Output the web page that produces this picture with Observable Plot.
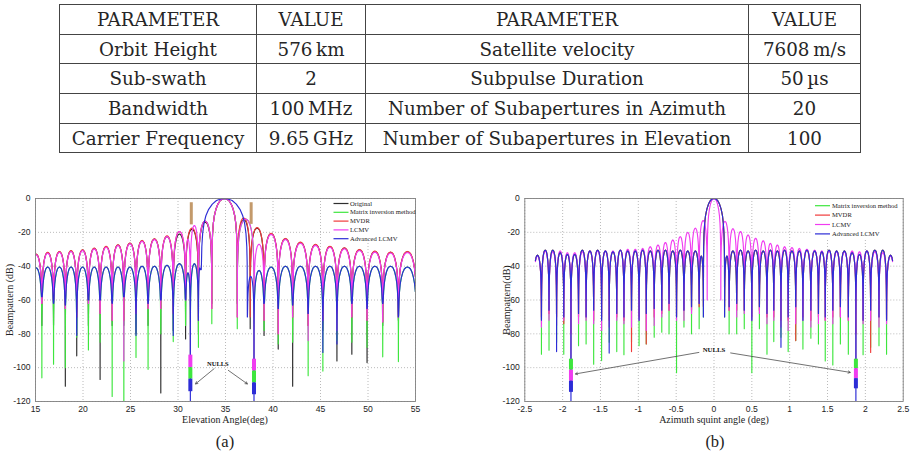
<!DOCTYPE html>
<html><head><meta charset="utf-8">
<script src="https://cdn.jsdelivr.net/npm/d3@7"></script>
<script src="https://cdn.jsdelivr.net/npm/@observablehq/plot@0.6"></script>
<style>
html,body{margin:0;padding:0;background:#fff}
#page{position:relative;width:916px;height:456px;overflow:hidden}
#tbl{position:absolute;left:59px;top:4px;border-collapse:collapse;table-layout:fixed;font-family:"DejaVu Serif",serif;font-size:18.3px;color:#262626}
#tbl td{border:1.3px solid #444;text-align:center;padding:0;white-space:nowrap}
#tbl tr{height:29.7px}
.chart{position:absolute;top:186px}
#overlay{position:absolute;left:0;top:0}
</style></head>
<body><div id="page">
<table id="tbl"><colgroup><col style="width:197px"><col style="width:109px"><col style="width:383px"><col style="width:112px"></colgroup><tbody></tbody></table>
<div id="chartA" class="chart" style="left:0px"></div>
<div id="chartB" class="chart" style="left:458px"></div>
</div>
<script>
// ---------------- table data ----------------
const tableHeader = ["PARAMETER", "VALUE", "PARAMETER", "VALUE"];
const tableParamsLeft = ["Orbit Height", "Sub-swath", "Bandwidth", "Carrier Frequency"];
const tableValuesLeft = ["576\u2009km", "2", "100\u2009MHz", "9.65\u2009GHz"];
const tableParamsRight = ["Satellite velocity", "Subpulse Duration", "Number of Subapertures in Azimuth", "Number of Subapertures in Elevation"];
const tableValuesRight = ["7608\u2009m/s", "50\u2009\u00b5s", "20", "100"];

// ---------------- chart (a) data: null angles (deg), lobe peaks (dB), null depths (dB) ----------------
const seriesNamesA = ["Original", "Matrix inversion method", "MVDR", "LCMV", "Advanced LCMV"];
const xTicksA = [15, 20, 25, 30, 35, 40, 45, 50, 55];
const yTicks = [0, -20, -40, -60, -80, -100, -120];

const aNullsMain = [14.45,15.67,16.9,18.14,19.34,20.57,21.8,23.07,24.3,25.58,26.85,28.19,29.5,30.8,32.15,33.56,36.24,37.6,39.06,40.55,42.07,43.7,45.25,46.73,48.3,49.9,51.55,53.2,55.1];
const aNullsLCMV = [14.45,15.67,16.9,18.14,19.34,20.57,21.8,23.07,24.3,25.58,26.85,28.19,29.5,30.8,31.3,32.15,33.56,36.24,38.0,39.06,40.55,42.07,43.7,45.25,46.73,48.3,49.9,51.55,53.2,55.1];
const aNullsAdv = [14.45,15.67,16.9,18.14,19.34,20.57,21.8,23.07,24.3,25.58,26.85,28.19,29.5,30.8,31.3,32.15,32.45,37.3,38.0,39.06,40.55,42.07,43.7,45.25,46.73,48.3,49.9,51.55,53.2,55.1];

const aPeaksOriginal = [-33,-32,-31.5,-31,-30.5,-29.5,-28.5,-27.5,-26.5,-25,-24,-22.5,-21,-18.2,-14,0,-12.5,-17.5,-20.8,-23.8,-26,-27.3,-28.4,-29.3,-30.3,-31.3,-31.8,-31.5];
const aDepthsOriginal = [-70,-75,-75,-111,-93,-75,-107,-75,-75,-80,-75,-115,-78,-83,-79,-62,-62,-77,-81,-89,-111,-75,-78,-96,-92,-97,-75,-72,-70];
const aPeaksMatrix = [-41,-40.5,-40.5,-40.5,-40.5,-40.5,-40.5,-40.5,-40.5,-40,-40,-39.5,-38.5,-44,-38.5,-13.3,0,-12.2,-42.5,-40.5,-40,-40,-40,-40,-40,-40,-40,-40,-40.5];
const aDepthsMatrix = [-75,-106,-98,-100,-82,-89.5,-85,-117,-125,-94,-101,-80,-84.6,-75,-107,-88,-74,-77,-109,-78,-86,-85,-104.8,-102,-84,-85,-88,-93.6,-96.4,-75];
const aPeaksMVDR = [-32.8,-31.8,-31.3,-30.8,-30.3,-29.3,-28.3,-27.3,-26.3,-24.8,-23.8,-22,-19.5,-17.5,-13.5,0,-11.5,-17.2,-20.6,-23.6,-25.8,-27.1,-28.2,-29.1,-30.1,-31.1,-31.6,-31.3];
const aDepthsMVDR = [-60,-62,-60,-65,-70,-62,-68,-72,-72,-68,-65,-65,-68,-60,-72,-65,-70,-70,-72,-80,-70,-75,-72,-68,-70,-72,-73,-70,-60];
const aPeaksLCMV = [-33.3,-32.3,-31.8,-31.3,-30.8,-29.8,-28.8,-27.8,-26.8,-25.3,-24.3,-22.5,-19.5,-24,-16,-13.3,0,-12.2,-27,-21.2,-24.2,-26.4,-27.7,-28.8,-29.7,-30.7,-31.7,-32.2,-31.9];
const aDepthsLCMV = [-60,-62,-60,-65,-70,-62,-68,-72,-96,-68,-65,-65,-68,-60,-100,-70,-65,-70,-102,-72,-80,-70,-84,-72,-78,-70,-72,-73,-70,-60];
const aPeaksAdv = [-41,-40.5,-40.5,-40.5,-40.5,-40.5,-40.5,-40.5,-40.5,-40,-40,-39.5,-38.5,-44,-38.5,-41,0,-46,-42.5,-40.5,-40,-40,-40,-40,-40,-40,-40,-40,-40.5];
const aDepthsAdv = [-55,-58,-62,-63,-81,-60,-60,-62,-58,-81,-62,-60,-81,-60,-130,-72,-42,-70,-130,-62,-65,-63,-68,-91,-86,-62,-65,-62,-70,-60];

// imposed nulls: depth reached by each method (thick bars) and interference markers
const aNullAngles = [31.3, 38.0];
const aNullLCMV = [[-92.6, -100], [-95, -102]];
const aNullMatrix = [[-100, -106.8], [-102, -109]];
const aNullAdv = [[-106.8, -114.2], [-109, -116]];
const aInterfAngles = [31.4, 37.7];
const aInterfLevels = [[-2.5, -15.6], [-2.5, -15.3]];

// ---------------- chart (b) data ----------------
const seriesNamesB = ["Matrix inversion method", "MVDR", "LCMV", "Advanced LCMV"];
const xTicksB = [-2.5, -2, -1.5, -1, -0.5, 0, 0.5, 1, 1.5, 2, 2.5];
const bNullsLCMV = [-2.385,-2.28,-2.18,-2.08,-1.985,-1.89,-1.79,-1.69,-1.59,-1.485,-1.385,-1.285,-1.19,-1.09,-0.99,-0.895,-0.79,-0.69,-0.594,-0.495,-0.397,-0.297,-0.196,-0.09,0.09,0.2,0.3,0.4,0.5,0.6,0.7,0.79,0.885,0.98,1.08,1.175,1.28,1.38,1.47,1.57,1.67,1.775,1.875,1.97,2.07,2.18,2.28,2.385];
const bNullsOther = [-2.385,-2.28,-2.18,-2.08,-1.985,-1.89,-1.79,-1.69,-1.59,-1.485,-1.385,-1.285,-1.19,-1.09,-0.99,-0.895,-0.79,-0.69,-0.594,-0.495,-0.397,-0.297,-0.196,-0.14,0.14,0.2,0.3,0.4,0.5,0.6,0.7,0.79,0.885,0.98,1.08,1.175,1.28,1.38,1.47,1.57,1.67,1.775,1.875,1.97,2.07,2.18,2.28,2.385];
const bPeaksLCMV = [-34,-31,-31.5,-31,-32,-32,-31.5,-31,-31,-31,-31,-30.5,-30,-30,-29.5,-28.5,-27.5,-26,-24.5,-22.5,-20,-17.5,-13,0,-13.5,-17.8,-19.5,-21.5,-23.5,-25,-26.5,-27.5,-28.5,-29,-29.5,-30,-30.5,-31,-31,-31.5,-31.5,-31,-31.5,-31,-31.5,-32,-34];
const bPeaksAdv = [-33.5,-30.5,-30.5,-32,-33,-33,-30.5,-31,-30.5,-31,-31.5,-30.5,-31,-31,-30.5,-31,-30.5,-30.5,-31,-30.5,-31,-31,-34,0,-34,-31,-30.5,-31,-30.5,-31,-30.5,-31,-30.5,-31,-31,-30.5,-31,-31.5,-30.5,-31,-31,-32,-33,-31,-30.5,-30.5,-33.5];
const bPeaksMatrix = bPeaksAdv;
const bPeaksMVDR = bPeaksAdv;
const bDepthsMatrix = [null,-92,-89.7,-85,-92,-101.5,-87,-86,-98,-95.8,-85,-90.5,-92.3,-85,-87,-86,-82,-79,-80,-103,-76,-80,-77,-70,-70,-80,-80,-77,-103,-77,-92,-84.6,-82,-90.5,-84,-89,-82.6,-86,-96,-98.4,-86,-92,-101,-92.3,-88,-87,-92,null];
const bDepthsMVDR = [null,-70,-68,-70,-74,-80,-70,-70,-72,-70,-72,-70,-72,-90.5,-70,-86,-70,-68,-66,-70,-66,-66,-64,-64,-64,-66,-66,-66,-70,-66,-70,-70,-72,-72,-84,-70,-72,-70,-72,-70,-70,-72,-80,-72,-91,-70,-72,null];
const bDepthsLCMV = [null,-76,-72,-75,-72,-108,-74,-72,-74,-78,-76,-72,-74,-76,-72,-78,-75,-70,-66,-72,-72,-68,-62,-60,-60,-66,-70,-68,-72,-68,-74,-72,-76,-78,-74,-72,-76,-74,-72,-74,-70,-72,-106,-74,-72,-76,-74,null];
const bDepthsAdv = [null,-72,-66,-90.5,-70,-130,-68,-70,-66,-72,-91.4,-68,-70,-66,-72,-68,-65,-66,-62,-70,-66,-64,-62,-70,-70,-64,-62,-66,-72,-64,-68,-66,-88,-70,-64,-72,-66,-68,-70,-66,-64,-70,-130,-72,-66,-70,-72,null];
const bNullAngles = [-1.89, 1.875];
const bNullMatrix = [[-95, -101.5], [-95, -100.6]];
const bNullLCMV = [[-101.5, -108], [-100.6, -106.5]];
const bNullAdv = [[-108, -114.6], [-106.5, -112.5]];

// ---------------- styles ----------------
const colorOf = {"Original": "#2e2e2e", "Matrix inversion method": "#3ee63e", "MVDR": "#f03a3a", "LCMV": "#f03cf0", "Advanced LCMV": "#2c2cd6"};
// drawing style for one lobe between two nulls: [fraction of lobe width, dB below the lobe peak]
const lobeShape = [[0.004,-38],[0.012,-28.5],[0.03,-20.6],[0.06,-14.6],[0.1,-10.2],[0.16,-6.4],[0.24,-3.3],[0.33,-1.2],[0.42,-0.3],[0.5,0]];

function patternPoints(nulls, peaks, depths, range) {
  const pts = [];
  for (let i = 0; i < peaks.length; i++) {
    const a = nulls[i], b = nulls[i + 1], w = b - a, p = peaks[i];
    const dA = depths[i] == null ? -999 : depths[i];
    const dB = depths[i + 1] == null ? -999 : depths[i + 1];
    if (depths[i] != null) pts.push({x: a, y: depths[i]});
    for (const [t, o] of lobeShape) pts.push({x: a + t * w, y: Math.max(p + o, dA)});
    for (let k = lobeShape.length - 2; k >= 0; k--) {
      const [t, o] = lobeShape[k];
      pts.push({x: b - t * w, y: Math.max(p + o, dB)});
    }
  }
  const last = peaks.length;
  if (depths[last] != null) pts.push({x: nulls[last], y: depths[last]});
  return pts.filter(d => d.x >= range[0] && d.x <= range[1]);
}
function bars(angles, levels, name) {
  return angles.map((x, i) => ({x, y1: levels[i][0], y2: levels[i][1], c: colorOf[name]}));
}
const hy = d => String(d);

function chart({width, height, marginLeft, marginRight, xDomain, xTicks, series, range, extra}) {
  const marks = [
    Plot.gridX(xTicks, {stroke: "#a8a8a8", strokeDasharray: "1,2", strokeOpacity: 1, strokeWidth: 0.8}),
    Plot.gridY(yTicks, {stroke: "#a8a8a8", strokeDasharray: "1,2", strokeOpacity: 1, strokeWidth: 0.8}),
  ];
  for (const s of series) {
    marks.push(Plot.line(patternPoints(s.nulls, s.peaks, s.depths, range),
      {x: "x", y: "y", stroke: colorOf[s.name], strokeWidth: 1.15, clip: true}));
  }
  marks.push(...extra);
  marks.push(
    Plot.frame({stroke: "#808080", strokeWidth: 0.9}),
    Plot.axisX(xTicks, {tickFormat: hy, tickSize: 0, tickPadding: 4, label: null, fontSize: 8.6}),
    Plot.axisY(yTicks, {tickFormat: hy, tickSize: 0, tickPadding: 5, label: null, fontSize: 8.6})
  );
  return Plot.plot({
    width, height, marginLeft, marginRight, marginTop: 12, marginBottom: 32,
    x: {domain: xDomain}, y: {domain: [-120, 0]}, color: {type: "identity"},
    style: {fontFamily: "'Liberation Sans', Arial, sans-serif", fontSize: "9px", background: "transparent", color: "#222", overflow: "visible"},
    marks
  });
}

// ---------- table ----------
const tbody = d3.select("#tbl tbody");
const hr = tbody.append("tr");
tableHeader.forEach(t => hr.append("td").text(t));
tableParamsLeft.forEach((p, i) => {
  const tr = tbody.append("tr");
  [p, tableValuesLeft[i], tableParamsRight[i], tableValuesRight[i]].forEach(t => tr.append("td").text(t));
});

// ---------- chart (a) ----------
const nullsTextA = [{x: 34.2, y: -97.5, t: "NULLS"}];
const arrowsA = [{x1: 33.8, y1: -100.6, x2: 31.85, y2: -109.6}, {x1: 35.3, y1: -101.6, x2: 37.3, y2: -109.6}];
const extraA = [
  Plot.ruleX(bars(aNullAngles, aNullLCMV, "LCMV"), {x: "x", y1: "y1", y2: "y2", stroke: "c", strokeWidth: 4}),
  Plot.ruleX(bars(aNullAngles, aNullMatrix, "Matrix inversion method"), {x: "x", y1: "y1", y2: "y2", stroke: "c", strokeWidth: 4}),
  Plot.ruleX(bars(aNullAngles, aNullAdv, "Advanced LCMV"), {x: "x", y1: "y1", y2: "y2", stroke: "c", strokeWidth: 4}),
  Plot.ruleX(aInterfAngles.map((x, i) => ({x, y1: aInterfLevels[i][0], y2: aInterfLevels[i][1]})), {x: "x", y1: "y1", y2: "y2", stroke: "#c39a6b", strokeWidth: 3}),
  Plot.arrow(arrowsA, {x1: "x1", y1: "y1", x2: "x2", y2: "y2", stroke: "#333", strokeWidth: 0.7, headLength: 5}),
  Plot.text(nullsTextA, {x: "x", y: "y", text: "t", fontSize: 6.5, fontWeight: "bold", fontFamily: "'Liberation Serif', serif", fill: "#111"})
];
document.getElementById("chartA").append(chart({
  width: 458, height: 247, marginLeft: 35, marginRight: 43, xDomain: [15, 55], xTicks: xTicksA, range: [15, 55],
  series: [
    {name: "Original", nulls: aNullsMain, peaks: aPeaksOriginal, depths: aDepthsOriginal},
    {name: "Matrix inversion method", nulls: aNullsLCMV, peaks: aPeaksMatrix, depths: aDepthsMatrix},
    {name: "MVDR", nulls: aNullsMain, peaks: aPeaksMVDR, depths: aDepthsMVDR},
    {name: "LCMV", nulls: aNullsLCMV, peaks: aPeaksLCMV, depths: aDepthsLCMV},
    {name: "Advanced LCMV", nulls: aNullsAdv, peaks: aPeaksAdv, depths: aDepthsAdv}
  ],
  extra: extraA
}));

// ---------- chart (b) ----------
const nullsTextB = [{x: 0, y: -89.5, t: "NULLS"}];
const arrowsB = [{x1: -0.2, y1: -91, x2: -1.83, y2: -103.7}, {x1: 0.22, y1: -91.3, x2: 1.8, y2: -102.8}];
const extraB = [
  Plot.ruleX(bars(bNullAngles, bNullMatrix, "Matrix inversion method"), {x: "x", y1: "y1", y2: "y2", stroke: "c", strokeWidth: 4}),
  Plot.ruleX(bars(bNullAngles, bNullLCMV, "LCMV"), {x: "x", y1: "y1", y2: "y2", stroke: "c", strokeWidth: 4}),
  Plot.ruleX(bars(bNullAngles, bNullAdv, "Advanced LCMV"), {x: "x", y1: "y1", y2: "y2", stroke: "c", strokeWidth: 4}),
  Plot.arrow(arrowsB, {x1: "x1", y1: "y1", x2: "x2", y2: "y2", stroke: "#333", strokeWidth: 0.7, headLength: 5}),
  Plot.text(nullsTextB, {x: "x", y: "y", text: "t", fontSize: 6.8, fontWeight: "bold", fontFamily: "'Liberation Serif', serif", fill: "#111"})
];
document.getElementById("chartB").append(chart({
  width: 458, height: 247, marginLeft: 66.3, marginRight: 13.3, xDomain: [-2.5, 2.5], xTicks: xTicksB, range: [-2.362, 2.362],
  series: [
    {name: "Matrix inversion method", nulls: bNullsOther, peaks: bPeaksMatrix, depths: bDepthsMatrix},
    {name: "MVDR", nulls: bNullsOther, peaks: bPeaksMVDR, depths: bDepthsMVDR},
    {name: "LCMV", nulls: bNullsLCMV, peaks: bPeaksLCMV, depths: bDepthsLCMV},
    {name: "Advanced LCMV", nulls: bNullsOther, peaks: bPeaksAdv, depths: bDepthsAdv}
  ],
  extra: extraB
}));

// ---------- overlay: legends, axis titles, captions ----------
const ov = d3.select("#page").append("svg").attr("id", "overlay").attr("width", 916).attr("height", 456)
  .style("font-family", "'Liberation Serif', 'Times New Roman', serif");
function legend(names, box, x0, x1, xt, y0, dy) {
  ov.append("rect").attr("x", box[0]).attr("y", box[1]).attr("width", box[2]).attr("height", box[3]).attr("fill", "#fff");
  names.forEach((n, i) => {
    const y = y0 + i * dy;
    ov.append("line").attr("x1", x0).attr("x2", x1).attr("y1", y).attr("y2", y).attr("stroke", colorOf[n]).attr("stroke-width", 1.2);
    ov.append("text").attr("x", xt).attr("y", y).attr("dy", "0.33em").attr("font-size", 6.6).attr("fill", "#222").text(n);
  });
}
legend(seriesNamesA, [330, 199, 84, 44], 333.5, 348.5, 350, 203.5, 8.8);
legend(seriesNamesB, [812, 200, 90, 38], 815, 830, 832, 205.7, 9.4);

function txt(x, y, s, size, rot) {
  const t = ov.append("text").attr("x", x).attr("y", y).attr("text-anchor", "middle").attr("dy", "0.35em")
    .attr("font-size", size).attr("fill", "#222").text(s);
  if (rot) t.attr("transform", `rotate(-90 ${x} ${y})`);
}
txt(225, 419, "Elevation Angle(deg)", 10);
txt(714, 419, "Azimuth squint angle (deg)", 10);
txt(9, 300, "Beampattern (dB)", 10, true);
txt(506, 300, "Beampattern(dB)", 10, true);
txt(225, 441, "(a)", 16.5);
txt(715, 441, "(b)", 16.5);
</script>
</body></html>
